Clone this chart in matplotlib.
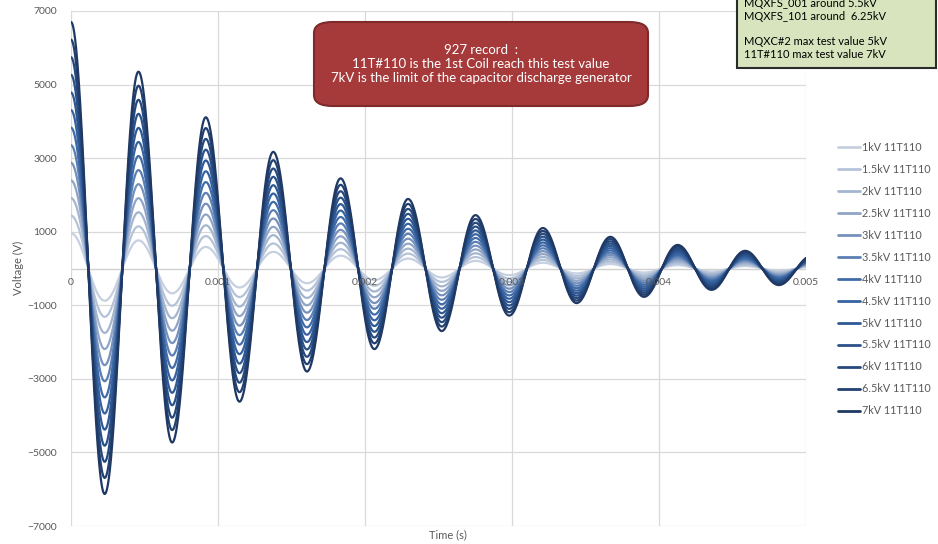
import numpy as np
import matplotlib.pyplot as plt
from matplotlib.patches import FancyBboxPatch, Rectangle

# test levels (kV) and legend labels
kv_levels = [1, 1.5, 2, 2.5, 3, 3.5, 4, 4.5, 5, 5.5, 6, 6.5, 7]
labels = [f"{k:g}kV 11T110" for k in kv_levels]

# extrema of the 7kV trace (time in s, voltage in V)
ext_t = [0, 0.000229, 0.000459, 0.000688, 0.000917, 0.001146, 0.001376,
         0.001605, 0.001834, 0.002064, 0.002293, 0.002522, 0.002752,
         0.002981, 0.003210, 0.003439, 0.003669, 0.003898, 0.004127,
         0.004357, 0.004586, 0.004815, 0.005044]
ext_v = [6700, -6130, 5350, -4730, 4110, -3620, 3170, -2800, 2450, -2190,
         1890, -1700, 1450, -1280, 1100, -940, 860, -770, 640, -580,
         480, -450, 360]

colors = ["#c6d0e1", "#b5c3d9", "#a4b5d0", "#90a5c7", "#7591bc", "#5b7fb3",
          "#416ca7", "#3663a0", "#2e5994", "#2a5189", "#26497d", "#224170",
          "#1f3864"]

xticks = [0, 0.001, 0.002, 0.003, 0.004, 0.005]
xtick_labels = ["0", "0.001", "0.002", "0.003", "0.004", "0.005"]
yticks = [-7000, -5000, -3000, -1000, 1000, 3000, 5000, 7000]

TXT = "#595959"
plt.rcParams['font.family'] = ['Lato', 'DejaVu Sans']


def trace(t, et, ev):
    # half-cosine arcs between successive extrema (shape of a sine wave)
    et = np.asarray(et)
    ev = np.asarray(ev, dtype=float)
    i = np.clip(np.searchsorted(et, t, side='right') - 1, 0, len(et) - 2)
    s = (t - et[i]) / (et[i + 1] - et[i])
    return ev[i] + (ev[i + 1] - ev[i]) * (1 - np.cos(np.pi * s)) / 2


def main():
    fig = plt.figure(figsize=(9.38, 5.44), dpi=100)
    ax = fig.add_axes([71 / 938, 1 - 526 / 544, 735 / 938, 515 / 544])

    t = np.linspace(0, 0.005, 3000)
    base = trace(t, ext_t, ext_v)
    for k, lab, c in zip(kv_levels, labels, colors):
        ax.plot(t, base * k / 7, color=c, lw=1.6, label=lab, zorder=3,
                solid_capstyle='round')

    ax.set_xlim(0, 0.005)
    ax.set_ylim(-7000, 7000)
    ax.set_yticks(yticks)
    ax.set_xticks(xticks)
    ax.set_xticklabels([])
    ax.tick_params(length=0, labelsize=7.5, labelcolor=TXT, pad=10)
    ax.grid(True, color="#d9d9d9", lw=0.9)
    ax.axhline(0, color="#d0d0d0", lw=1.0, zorder=1)
    for s in ax.spines.values():
        s.set_visible(False)

    for x, lab in zip(xticks, xtick_labels):
        ax.annotate(lab, (x, 0), xytext=(0, -7), textcoords='offset points',
                    ha='center', va='top', fontsize=7.5, color=TXT, zorder=4)

    fig.text(18 / 938, 1 - 268 / 544, "Voltage (V)", rotation=90, ha='center',
             va='center', fontsize=8, color=TXT)
    fig.text(448 / 938, 1 - 535 / 544, "Time (s)", ha='center', va='center',
             fontsize=8, color=TXT)

    leg = fig.legend(loc='upper left', bbox_to_anchor=(838 / 938, 1 - 142 / 544),
                     frameon=False, fontsize=7.8, handlelength=2.0,
                     handletextpad=0.25, labelspacing=1.01, borderpad=0,
                     borderaxespad=0, labelcolor=TXT)
    for h in leg.legend_handles:
        h.set_linewidth(2.0)

    # red note box
    W, H = 938, 544
    red = FancyBboxPatch((314 / W, 1 - 106 / H), 334 / W, 84 / H,
                         boxstyle="round,pad=0,rounding_size=0.02",
                         transform=fig.transFigure, facecolor="#a63a3b",
                         edgecolor="#7e2a2b", lw=1.5, zorder=5)
    fig.patches.append(red)
    fig.text(481 / W, 1 - 64 / H,
             "927 record  :\n11T#110 is the 1st Coil reach this test value\n"
             "7kV is the limit of the capacitor discharge generator",
             ha='center', va='center', color='white', fontsize=9.5,
             linespacing=1.2, zorder=6)

    # green note box, cut by the top edge
    green = Rectangle((737 / W, 1 - 68 / H), 199 / W, 80 / H,
                      transform=fig.transFigure, facecolor="#d7e4bd",
                      edgecolor="#2b2b2b", lw=1.5, zorder=5)
    fig.patches.append(green)
    fig.text(744 / W, 1 - 29 / H,
             "MQXFS_001 around 5.5kV\nMQXFS_101 around  6.25kV\n\n"
             "MQXC#2 max test value 5kV\n11T#110 max test value 7kV",
             ha='left', va='center', color='black', fontsize=8,
             linespacing=1.22, zorder=6)

    fig.savefig("out.png", dpi=100)


if __name__ == "__main__":
    main()
